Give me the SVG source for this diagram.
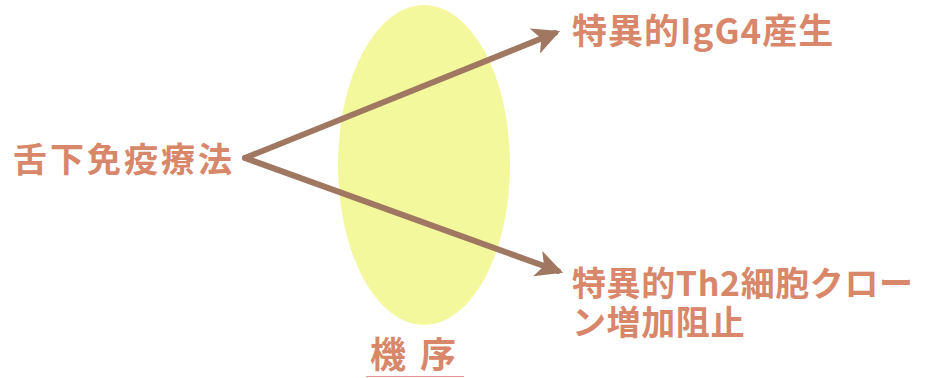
<svg xmlns="http://www.w3.org/2000/svg" width="925" height="378" viewBox="0 0 925 378">
<style>
.t{font-family:"Noto Sans CJK JP","Noto Sans CJK SC",sans-serif;fill:#d8876a;font-weight:bold}
.c{stroke:#a07862;stroke-width:6;fill:none;stroke-linecap:round;stroke-linejoin:miter}
</style>
<defs>
<marker id="ah" viewBox="0 0 10 10" refX="8" refY="5" markerWidth="4.5" markerHeight="4.5" orient="auto" markerUnits="strokeWidth">
<path d="M0,0 L10,5 L0,10 L2.5,5 Z" fill="#a07862"/>
</marker>
</defs>
<rect width="925" height="378" fill="#ffffff"/>
<g id="mechanism">
<ellipse cx="424" cy="165" rx="86" ry="160" fill="#f3f89c"/>
<text class="t" x="370" y="368" font-size="36" letter-spacing="14">機序</text>
<line x1="366" y1="376.5" x2="464" y2="376.5" stroke="#d8a08a" stroke-width="1.2"/>
</g>
<g id="connectors">
<line class="c" x1="245" y1="158" x2="555" y2="33" marker-end="url(#ah)"/>
<line class="c" x1="245" y1="158" x2="558" y2="271" marker-end="url(#ah)"/>
</g>
<g id="source">
<text class="t" x="13" y="172" font-size="34" letter-spacing="3" style="font-weight:600">舌下免疫療法</text>
</g>
<g id="igg4">
<text class="t" x="572" y="44" font-size="35" letter-spacing="1">特異的IgG4産生</text>
</g>
<g id="th2">
<text class="t" font-size="34" letter-spacing="0.6"><tspan x="572" y="296">特異的Th2細胞クロー</tspan><tspan x="572" y="335">ン増加阻止</tspan></text>
</g>
</svg>
